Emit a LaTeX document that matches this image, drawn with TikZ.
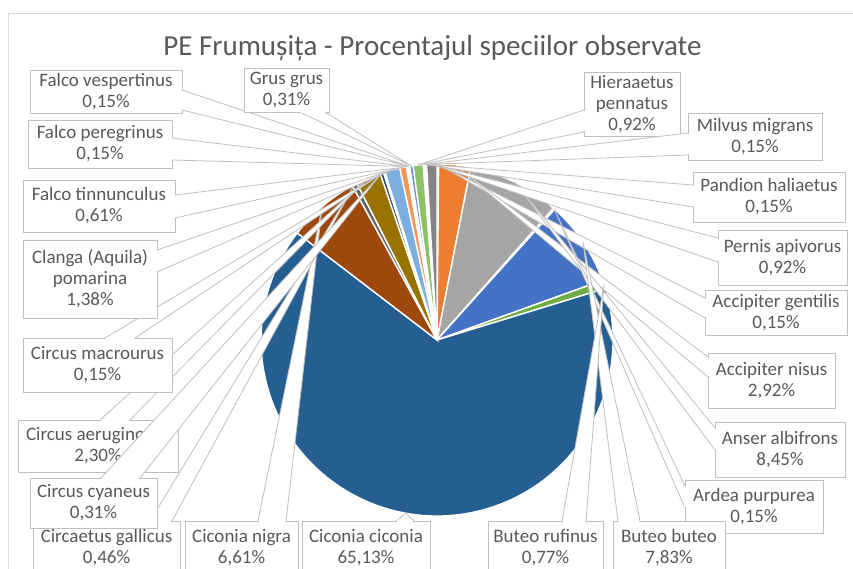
\documentclass[tikz,border=0pt]{standalone}
\usepackage{fontspec}
\setmainfont{Carlito}
\usetikzlibrary{calc}
\definecolor{txt}{HTML}{595959}
\definecolor{lbord}{HTML}{BFBFBF}
\definecolor{frame}{HTML}{D9D9D9}
\definecolor{cAG}{HTML}{5B9BD5}
\definecolor{cAN}{HTML}{ED7D31}
\definecolor{cAA}{HTML}{A5A5A5}
\definecolor{cAP}{HTML}{FFC000}
\definecolor{cBB}{HTML}{4472C4}
\definecolor{cBR}{HTML}{70AD47}
\definecolor{cCI}{HTML}{255E91}
\definecolor{cCN}{HTML}{9E480E}
\definecolor{cCG}{HTML}{636363}
\definecolor{cCA}{HTML}{997300}
\definecolor{cCC}{HTML}{264478}
\definecolor{cCM}{HTML}{43682B}
\definecolor{cCL}{HTML}{7CAFDD}
\definecolor{cFT}{HTML}{F1975A}
\definecolor{cFP}{HTML}{B7B7B7}
\definecolor{cFV}{HTML}{FFCD33}
\definecolor{cGG}{HTML}{698ED0}
\definecolor{cHP}{HTML}{8CC168}
\definecolor{cMM}{HTML}{327DC2}
\definecolor{cPH}{HTML}{D26012}
\definecolor{cPA}{HTML}{848484}
\newcommand\lab[6]{%
  \node[lbox, minimum width={#4-#2}, minimum height={#5-#3}] (#1) at ({(#2+#4)/2},{(#3+#5)/2}) {#6};}
\newcommand\ptr[3]{%
  \path[fill=white, draw=lbord, line width=0.8pt] #1 -- #3 -- #2;
  \draw[white, line width=1.5pt, shorten <=0.6pt, shorten >=0.6pt] #1 -- #2;}
\newcommand\slice[3]{%
  \fill[#3, draw=white, line width=1.4pt] (0,0) -- ({90-3.6*#1}:176) arc[start angle={90-3.6*#1}, end angle={90-3.6*#2}, radius=176] -- cycle;}
\begin{document}
\begin{tikzpicture}[x=1pt,y=-1pt,
  lbox/.style={draw=lbord, fill=white, line width=0.8pt, text=txt,
    font=\fontsize{19}{21}\selectfont, align=center, inner sep=0pt, outer sep=0pt}]
\useasboundingbox (0,0) rectangle (853,569);
\fill[white] (0,0) rectangle (853,569);
\draw[frame, line width=1pt] (8,14) rectangle (880,600);
\node[text=txt, font=\fontsize{29}{31}\selectfont, inner sep=0pt] (title) at (432.5,48) {PE Frumușița - Procentajul speciilor observate};
% pie
\begin{scope}[shift={(437,340)}, y=1pt]
\slice{0}{0.15}{cAG}
\slice{0.15}{3.07}{cAN}
\slice{3.07}{11.52}{cAA}
\slice{11.52}{11.67}{cAP}
\slice{11.67}{19.50}{cBB}
\slice{19.50}{20.27}{cBR}
\slice{20.27}{85.40}{cCI}
\slice{85.40}{92.01}{cCN}
\slice{92.01}{92.47}{cCG}
\slice{92.47}{94.77}{cCA}
\slice{94.77}{95.08}{cCC}
\slice{95.08}{95.23}{cCM}
\slice{95.23}{96.61}{cCL}
\slice{96.61}{97.22}{cFT}
\slice{97.22}{97.37}{cFP}
\slice{97.37}{97.52}{cFV}
\slice{97.52}{97.83}{cGG}
\slice{97.83}{98.75}{cHP}
\slice{98.75}{98.90}{cMM}
\slice{98.90}{99.05}{cPH}
\slice{99.05}{100}{cPA}
\end{scope}
% tips
\coordinate (t-ag) at (437.8,164);
\coordinate (t-an) at (454.8,164.9);
\coordinate (t-aa) at (515,182.3);
\coordinate (t-ap) at (554,208.5);
\coordinate (t-bb) at (583,241.8);
\coordinate (t-br) at (604,284.4);
\coordinate (t-ci) at (405.8,513.2);
\coordinate (t-cn) at (322.2,206.6);
\coordinate (t-cg) at (354.6,184.4);
\coordinate (t-ca) at (368.2,177.9);
\coordinate (t-cc) at (381.7,173);
\coordinate (t-cm) at (384.4,172);
\coordinate (t-cl) at (392.3,169.8);
\coordinate (t-ft) at (403,167.3);
\coordinate (t-fp) at (407.4,166.5);
\coordinate (t-fv) at (408.9,166.3);
\coordinate (t-gg) at (411.3,166);
\coordinate (t-hp) at (418,165);
\coordinate (t-mm) at (424.1,164.5);
\coordinate (t-ph) at (425.6,164.4);
\coordinate (t-pa) at (431.5,164);
% labels in data order
\lab{ag}{705}{290}{847}{335}{Accipiter gentilis\\0,15\%}
\ptr{([yshift=-8pt]ag.north west)}{([yshift=-28pt]ag.north west)}{(t-ag)}
\lab{an}{708}{353}{835}{408}{Accipiter nisus\\2,92\%}
\ptr{([yshift=-4pt]an.north west)}{([yshift=-24pt]an.north west)}{(t-an)}
\lab{aa}{715}{422}{845}{477}{Anser albifrons\\8,45\%}
\ptr{([yshift=-6pt]aa.north west)}{([yshift=-28pt]aa.north west)}{(t-aa)}
\lab{ap}{685}{480}{823}{533}{Ardea purpurea\\0,15\%}
\ptr{([yshift=-6pt]ap.north west)}{([yshift=-28pt]ap.north west)}{(t-ap)}
\lab{bb}{613}{521}{725}{575}{Buteo buteo\\7,83\%}
\ptr{([xshift=5pt]bb.north west)}{([xshift=27pt]bb.north west)}{(t-bb)}
\lab{br}{488}{521}{603}{575}{Buteo rufinus\\0,77\%}
\ptr{([xshift=74pt]br.north west)}{([xshift=98pt]br.north west)}{(t-br)}
\lab{ci}{302}{521}{430}{575}{Ciconia ciconia\\65,13\%}
\ptr{([xshift=94pt]ci.north west)}{([xshift=112pt]ci.north west)}{(t-ci)}
\lab{cn}{185}{521}{298}{575}{Ciconia nigra\\6,61\%}
\ptr{([xshift=73pt]cn.north west)}{([xshift=101pt]cn.north west)}{(t-cn)}
\lab{cg}{33}{521}{180}{575}{Circaetus gallicus\\0,46\%}
\ptr{([xshift=117pt]cg.north west)}{([xshift=139pt]cg.north west)}{(t-cg)}
\lab{ca}{18}{420}{178}{472}{Circus aeruginosus\\2,30\%}
\ptr{([xshift=82pt]ca.north west)}{([xshift=112pt]ca.north west)}{(t-ca)}
\lab{cc}{30}{478}{157}{528}{Circus cyaneus\\0,31\%}
\ptr{([xshift=71pt]cc.north west)}{([xshift=110pt]cc.north west)}{(t-cc)}
\lab{cm}{23}{338}{172}{392}{Circus macrourus\\0,15\%}
\ptr{([xshift=82pt]cm.north west)}{([xshift=112pt]cm.north west)}{(t-cm)}
\lab{cl}{23}{240}{157}{318}{Clanga (Aquila)\\pomarina\\1,38\%}
\ptr{([yshift=-10pt]cl.north east)}{([yshift=-32pt]cl.north east)}{(t-cl)}
\lab{ft}{23}{180}{175}{232}{Falco tinnunculus\\0,61\%}
\ptr{([yshift=-15pt]ft.north east)}{([yshift=-38pt]ft.north east)}{(t-ft)}
\lab{fp}{28}{120}{172}{168}{Falco peregrinus\\0,15\%}
\ptr{([yshift=-18pt]fp.north east)}{([yshift=-40pt]fp.north east)}{(t-fp)}
\lab{fv}{30}{70}{182}{113}{Falco vespertinus\\0,15\%}
\ptr{([yshift=-20pt]fv.north east)}{([yshift=-40pt]fv.north east)}{(t-fv)}
\lab{gg}{244}{68}{329}{112}{Grus grus\\0,31\%}
\ptr{([xshift=56pt]gg.south west)}{([xshift=81pt]gg.south west)}{(t-gg)}
\lab{hp}{584}{72}{680}{136}{Hieraaetus\\pennatus\\0,92\%}
\ptr{([yshift=-38pt]hp.north west)}{([yshift=-60pt]hp.north west)}{(t-hp)}
\lab{mm}{688}{113}{822}{160}{Milvus migrans\\0,15\%}
\ptr{([yshift=-20pt]mm.north west)}{([yshift=-42pt]mm.north west)}{(t-mm)}
\lab{ph}{693}{172}{845}{222}{Pandion haliaetus\\0,15\%}
\ptr{([yshift=-13pt]ph.north west)}{([yshift=-35pt]ph.north west)}{(t-ph)}
\lab{pa}{718}{230}{847}{285}{Pernis apivorus\\0,92\%}
\ptr{([yshift=-8pt]pa.north west)}{([yshift=-32pt]pa.north west)}{(t-pa)}
\end{tikzpicture}
\end{document}
